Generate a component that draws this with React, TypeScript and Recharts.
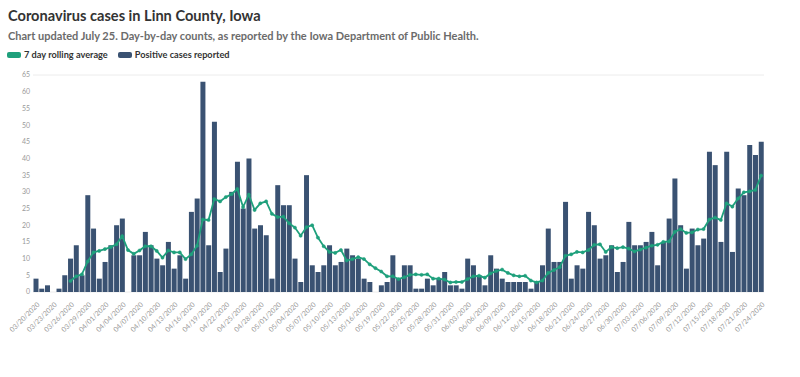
import React from "react";
import { ComposedChart, Bar, Line, XAxis, YAxis, CartesianGrid } from "recharts";

const dates: string[] = [
  "03/20/2020","03/21/2020","03/22/2020","03/23/2020","03/24/2020","03/25/2020","03/26/2020","03/27/2020","03/28/2020","03/29/2020","03/30/2020","03/31/2020",
  "04/01/2020","04/02/2020","04/03/2020","04/04/2020","04/05/2020","04/06/2020","04/07/2020","04/08/2020","04/09/2020","04/10/2020",
  "04/11/2020","04/12/2020","04/13/2020","04/14/2020","04/15/2020","04/16/2020","04/17/2020","04/18/2020","04/19/2020","04/20/2020",
  "04/21/2020","04/22/2020","04/23/2020","04/24/2020","04/25/2020","04/26/2020","04/27/2020","04/28/2020","04/29/2020","04/30/2020",
  "05/01/2020","05/02/2020","05/03/2020","05/04/2020","05/05/2020","05/06/2020","05/07/2020","05/08/2020","05/09/2020","05/10/2020",
  "05/11/2020","05/12/2020","05/13/2020","05/14/2020","05/15/2020","05/16/2020","05/17/2020","05/18/2020","05/19/2020","05/20/2020",
  "05/21/2020","05/22/2020","05/23/2020","05/24/2020","05/25/2020","05/26/2020","05/27/2020","05/28/2020","05/29/2020","05/30/2020","05/31/2020",
  "06/01/2020","06/02/2020","06/03/2020","06/04/2020","06/05/2020","06/06/2020","06/07/2020","06/08/2020","06/09/2020","06/10/2020",
  "06/11/2020","06/12/2020","06/13/2020","06/14/2020","06/15/2020","06/16/2020","06/17/2020","06/18/2020","06/19/2020","06/20/2020",
  "06/21/2020","06/22/2020","06/23/2020","06/24/2020","06/25/2020","06/26/2020","06/27/2020","06/28/2020","06/29/2020","06/30/2020",
  "07/01/2020","07/02/2020","07/03/2020","07/04/2020","07/05/2020","07/06/2020","07/07/2020","07/08/2020","07/09/2020","07/10/2020",
  "07/11/2020","07/12/2020","07/13/2020","07/14/2020","07/15/2020","07/16/2020","07/17/2020","07/18/2020","07/19/2020","07/20/2020",
  "07/21/2020","07/22/2020","07/23/2020","07/24/2020"
];

const positiveCases: number[] = [
  4, 1, 2, 0, 1, 5, 10, 14, 5, 29, 19, 4, 9, 14, 20, 22, 0, 11, 11, 18,
  14, 10, 8, 15, 7, 11, 4, 24, 28, 63, 14, 51, 6, 13, 30, 39, 25, 40, 19, 20,
  17, 4, 32, 26, 26, 10, 3, 35, 8, 6, 8, 14, 8, 9, 13, 11, 10, 4, 3, 0,
  2, 3, 11, 4, 8, 8, 1, 1, 4, 2, 4, 6, 2, 2, 1, 10, 8, 5, 2, 11,
  7, 4, 3, 3, 3, 3, 1, 3, 8, 19, 9, 9, 27, 4, 8, 7, 24, 20, 10, 11,
  14, 6, 9, 21, 14, 14, 15, 18, 8, 15, 22, 34, 20, 7, 19, 14, 16, 42, 38, 15,
  42, 12, 31, 29, 44, 41, 45
];

const rollingAverage: (number | null)[] = [
  null, null, null, null, null, null, 3.29, 4.71, 5.29, 9.14, 11.86, 12.29, 12.86, 13.43, 14.29, 16.71, 12.57, 11.43, 12.43, 13.71,
  13.71, 12.29, 10.29, 12.43, 11.86, 11.86, 9.86, 11.29, 13.86, 21.71, 21.57, 27.86, 27.14, 28.43, 29.29, 30.86, 25.43, 29.14, 24.57, 26.57,
  27.14, 23.43, 22.43, 22.57, 20.57, 19.29, 16.86, 19.43, 20.0, 16.29, 13.71, 12.0, 11.71, 12.57, 9.43, 9.86, 10.43, 9.86, 8.29, 7.14,
  6.14, 4.71, 4.71, 3.86, 4.43, 5.14, 5.29, 5.14, 5.29, 4.0, 4.0, 3.71, 2.86, 3.0, 3.0, 3.86, 4.71, 4.86, 4.29, 5.57,
  6.29, 6.71, 5.71, 5.0, 4.71, 4.86, 3.43, 2.86, 3.43, 5.71, 6.57, 7.43, 10.86, 11.29, 12.0, 11.86, 12.57, 14.14, 14.29, 12.0,
  13.43, 13.14, 13.43, 13.0, 12.14, 12.71, 13.29, 13.86, 14.14, 15.0, 15.14, 18.0, 18.86, 17.71, 17.86, 18.71, 18.86, 21.71, 22.29, 21.57,
  26.57, 25.57, 28.0, 29.86, 30.14, 30.57, 34.86
];

const yTicks: number[] = [0, 5, 10, 15, 20, 25, 30, 35, 40, 45, 50, 55, 60, 65];

const title = "Coronavirus cases in Linn County, Iowa";
const subtitle = "Chart updated July 25. Day-by-day counts, as reported by the Iowa Department of Public Health.";
const legendAvg = "7 day rolling average";
const legendCases = "Positive cases reported";

const BAR_COLOR = "#3a5272";
const LINE_COLOR = "#1fa07c";
const FONT = "Lato, 'Noto Sans', sans-serif";

const data = dates.map((d, i) => ({ date: d, cases: positiveCases[i], avg: rollingAverage[i] }));

const XTick = (props: any) => {
  const { x, y, payload } = props;
  return (
    <g transform={`translate(${x + 2},${y + 3})`}>
      <text x={0} y={0} dy={3} textAnchor="end" transform="rotate(-45)" fontSize={7} fill="#9a9a9a" fontFamily={FONT}>
        {payload.value}
      </text>
    </g>
  );
};

export default function App() {
  return (
    <div style={{ position: "absolute", left: 0, top: 0, width: 800, height: 377, background: "#fff", fontFamily: FONT }}>
      <div style={{ position: "absolute", left: 8, top: 7, fontSize: 14.6, lineHeight: "18px", fontWeight: 700, color: "#333", whiteSpace: "nowrap" }}>{title}</div>
      <div style={{ position: "absolute", left: 8, top: 29, fontSize: 11, lineHeight: "14px", fontWeight: 700, color: "#6b6b6b", whiteSpace: "nowrap" }}>{subtitle}</div>
      <div style={{ position: "absolute", left: 7, top: 49, fontSize: 9.2, lineHeight: "12px", fontWeight: 700, color: "#333", whiteSpace: "nowrap", display: "flex", alignItems: "center" }}>
        <span style={{ display: "inline-block", width: 14, height: 6, borderRadius: 2, background: LINE_COLOR, marginRight: 3 }} />
        <span>{legendAvg}</span>
        <span style={{ display: "inline-block", width: 14, height: 6, borderRadius: 2, background: BAR_COLOR, marginLeft: 10, marginRight: 3 }} />
        <span>{legendCases}</span>
      </div>
      <ComposedChart
        width={800}
        height={377}
        data={data}
        margin={{ top: 75, right: 0, bottom: 0, left: 0 }}
        barCategoryGap={0.5}
        style={{ position: "absolute", left: 0, top: 0 }}
      >
        <CartesianGrid horizontal={true} vertical={false} stroke="#ececec" strokeWidth={1} />
        <XAxis
          dataKey="date"
          interval={2}
          height={85}
          tick={<XTick />}
          tickLine={false}
          axisLine={false}
        />
        <YAxis
          yAxisId="left"
          orientation="left"
          width={33}
          domain={[0, 65]}
          ticks={yTicks}
          tickSize={0}
          tickMargin={3}
          tickLine={false}
          axisLine={false}
          tick={{ fontSize: 7, fill: "#9a9a9a", fontFamily: FONT }}
        />
        <YAxis
          yAxisId="right"
          orientation="right"
          width={36}
          domain={[0, 65]}
          ticks={yTicks}
          tickSize={0}
          tickMargin={3}
          tickLine={false}
          axisLine={false}
          tick={{ fontSize: 7, fill: "#9a9a9a", fontFamily: FONT }}
        />
        <Bar yAxisId="left" dataKey="cases" fill={BAR_COLOR} isAnimationActive={false} />
        <Line
          yAxisId="left"
          dataKey="avg"
          type="linear"
          stroke={LINE_COLOR}
          strokeWidth={1.8}
          dot={{ r: 1.6, fill: LINE_COLOR, stroke: LINE_COLOR, strokeWidth: 0.5 }}
          isAnimationActive={false}
        />
      </ComposedChart>
    </div>
  );
}
